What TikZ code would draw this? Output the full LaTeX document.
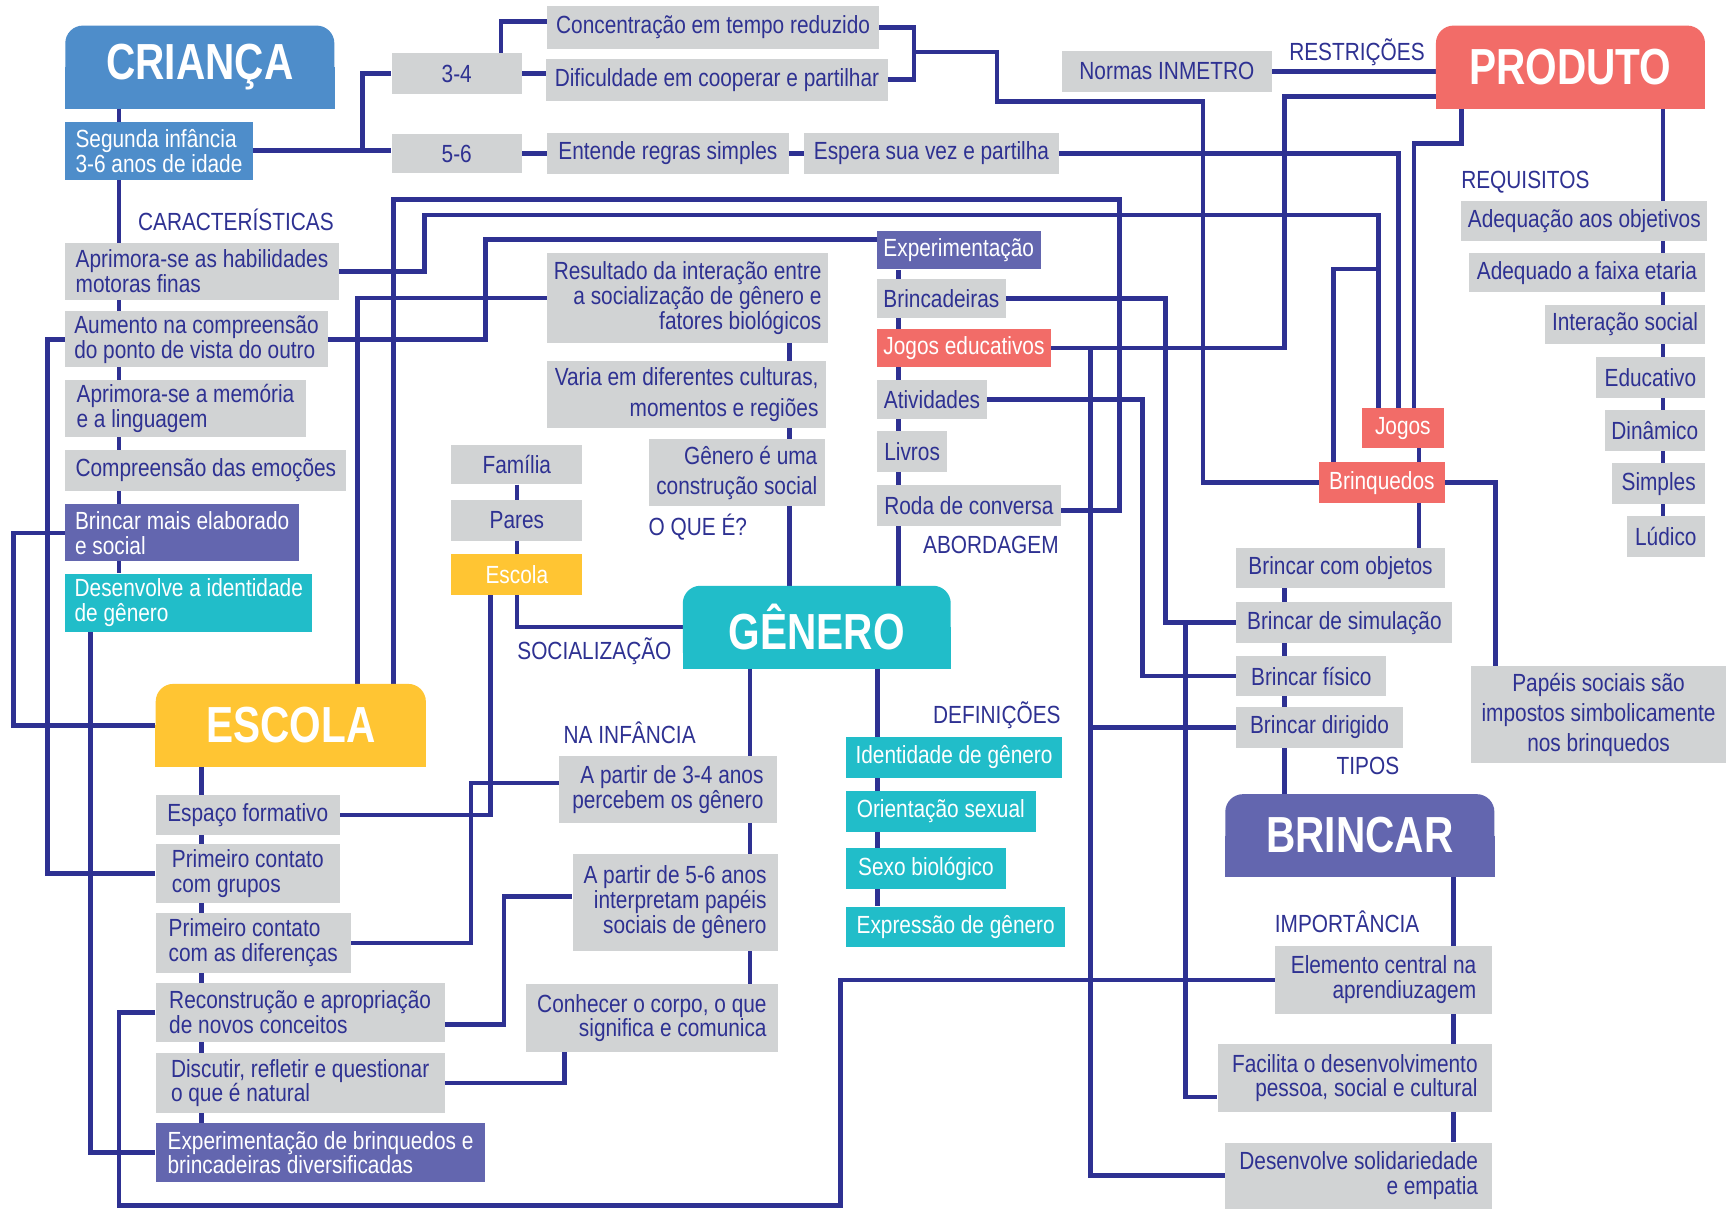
\documentclass[tikz,border=0pt]{standalone}
\usepackage{fontspec}
\setmainfont{Liberation Sans}[FakeStretch=0.84]
\newfontfamily\titulofonte{Liberation Sans}[FakeStretch=0.8]
\usetikzlibrary{backgrounds}

\definecolor{marinho}{HTML}{2E3192}
\definecolor{cinza}{HTML}{D1D3D4}
\definecolor{azul}{HTML}{4E8DCA}
\definecolor{vermelho}{HTML}{F26C68}
\definecolor{turquesa}{HTML}{21BDC9}
\definecolor{amarelo}{HTML}{FFC533}
\definecolor{roxo}{HTML}{6366AF}

\begin{document}
\begin{tikzpicture}[x=1pt, y=-1pt,
    caixa/.style={anchor=north west, fill=cinza, text=marinho, inner xsep=6pt, inner ysep=0pt,
                  align=left, font=\fontsize{22.5pt}{22.5pt}\selectfont},
    direita/.style={align=right},
    centro/.style={align=center},
    branco/.style={text=white},
    folga/.style={font=\fontsize{22.5pt}{27.5pt}\selectfont},
    titulo/.style={anchor=north west, inner sep=0pt, text=white, rounded corners=16pt,
                   minimum height=75pt, font=\titulofonte\bfseries\fontsize{46pt}{46pt}\selectfont},
    rotulo/.style={anchor=base west, inner sep=0pt, text=marinho, font=\fontsize{22.5pt}{22.5pt}\selectfont},
    liga/.style={draw=marinho, line width=4.2pt}]

  \useasboundingbox (0,0) rectangle (1568,1096);

  % CRIANCA
  \node[titulo, fill=azul, minimum width=244pt] (crianca) at (59,23) {CRIANÇA};
  \node[caixa, fill=azul, branco, minimum width=170pt, minimum height=53pt] (infancia) at (59,110) {Segunda infância\\3-6 anos de idade};
  \node[rotulo] (caract) at (125,209) {CARACTERÍSTICAS};
  \node[caixa, minimum width=248pt, minimum height=52pt] (motoras) at (59,220) {Aprimora-se as habilidades\\motoras finas};
  \node[caixa, minimum width=238pt, minimum height=51pt] (pontovista) at (59,282) {Aumento na compreensão\\do ponto de vista do outro};
  \node[caixa, minimum width=218pt, minimum height=52pt] (memoria) at (59,344) {Aprimora-se a memória\\e a linguagem};
  \node[caixa, minimum width=255pt, minimum height=37pt] (emocoes) at (59,408) {Compreensão das emoções};
  \node[caixa, fill=roxo, branco, minimum width=212pt, minimum height=52pt] (elaborado) at (59,457) {Brincar mais elaborado\\e social};
  \node[caixa, fill=turquesa, branco, minimum width=224pt, minimum height=53pt] (identidade) at (59,520) {Desenvolve a identidade\\de gênero};

  \node[caixa, minimum width=118pt, minimum height=37pt] (f34) at (355,48) {3-4};
  \node[caixa, minimum width=118pt, minimum height=36pt] (f56) at (355,121) {5-6};
  \node[caixa, minimum width=301pt, minimum height=39pt] (concentracao) at (496,5) {Concentração em tempo reduzido};
  \node[caixa, minimum width=310pt, minimum height=38pt] (dificuldade) at (495,53) {Dificuldade em cooperar e partilhar};
  \node[caixa, minimum width=219pt, minimum height=38pt] (regras) at (496,120) {Entende regras simples};
  \node[caixa, minimum width=231pt, minimum height=38pt] (partilha) at (729,120) {Espera sua vez e partilha};

  % PRODUTO
  \node[titulo, fill=vermelho, minimum width=244pt] (produto) at (1302,23) {PRODUTO};
  \node[caixa, minimum width=190pt, minimum height=37pt] (normas) at (963,46) {Normas INMETRO};
  \node[rotulo] (restricoes) at (1169,55) {RESTRIÇÕES};
  \node[rotulo] (requisitos) at (1325,171) {REQUISITOS};
  \node[caixa, minimum width=221pt, minimum height=36pt] (objetivos) at (1325,182) {Adequação aos objetivos};
  \node[caixa, minimum width=214pt, minimum height=36pt] (faixa) at (1332,229) {Adequado a faixa etaria};
  \node[caixa, minimum width=145pt, minimum height=36pt] (interacao) at (1401,276) {Interação social};
  \node[caixa, minimum width=99pt, minimum height=37pt] (educativo) at (1447,324) {Educativo};
  \node[caixa, minimum width=91pt, minimum height=37pt] (dinamico) at (1455,372) {Dinâmico};
  \node[caixa, minimum width=84pt, minimum height=37pt] (simples) at (1462,420) {Simples};
  \node[caixa, minimum width=71pt, minimum height=37pt] (ludico) at (1475,468) {Lúdico};
  \node[caixa, fill=vermelho, branco, minimum width=74pt, minimum height=36pt] (jogos) at (1235,370) {Jogos};
  \node[caixa, fill=vermelho, branco, minimum width=114pt, minimum height=37pt] (brinquedos) at (1196,419) {Brinquedos};
  \node[caixa, centro, minimum width=231pt, minimum height=88pt, folga] (papeis) at (1334,604) {Papéis sociais são\\impostos simbolicamente\\nos brinquedos};

  % GENERO
  \node[titulo, fill=turquesa, minimum width=243pt] (genero) at (619,531) {GÊNERO};
  \node[caixa, direita, minimum width=253pt, minimum height=82pt] (resultado) at (496,229) {Resultado da interação entre\\a socialização de gênero e\\fatores biológicos};
  \node[caixa, direita, folga, minimum width=253pt, minimum height=61pt] (culturas) at (496,327) {Varia em diferentes culturas,\\momentos e regiões};
  \node[caixa, direita, folga, minimum width=160pt, minimum height=61pt] (construcao) at (588,398) {Gênero é uma\\construção social};
  \node[rotulo] (oque) at (588,486) {O QUE É?};
  \node[caixa, fill=roxo, branco, minimum width=145pt, minimum height=35pt] (experim) at (795,209) {Experimentação};
  \node[caixa, minimum width=115pt, minimum height=35pt] (brincadeiras) at (795,253) {Brincadeiras};
  \node[caixa, fill=vermelho, branco, minimum width=157pt, minimum height=35pt] (jogoseduc) at (795,298) {Jogos educativos};
  \node[caixa, minimum width=100pt, minimum height=36pt] (atividades) at (795,344) {Atividades};
  \node[caixa, minimum width=64pt, minimum height=37pt] (livros) at (795,391) {Livros};
  \node[caixa, minimum width=167pt, minimum height=37pt] (roda) at (795,440) {Roda de conversa};
  \node[rotulo] (abordagem) at (837,502) {ABORDAGEM};
  \node[caixa, minimum width=119pt, minimum height=36pt] (familia) at (409,403) {Família};
  \node[caixa, minimum width=119pt, minimum height=37pt] (pares) at (409,453) {Pares};
  \node[caixa, fill=amarelo, branco, minimum width=119pt, minimum height=37pt] (escolaSoc) at (409,502) {Escola};
  \node[rotulo] (socializacao) at (469,598) {SOCIALIZAÇÃO};
  \node[rotulo] (nainfancia) at (511,674) {NA INFÂNCIA};
  \node[caixa, direita, minimum width=197pt, minimum height=61pt] (p34) at (507,685) {A partir de 3-4 anos\\percebem os gênero};
  \node[caixa, direita, minimum width=186pt, minimum height=88pt] (p56) at (519,774) {A partir de 5-6 anos\\interpretam papéis\\sociais de gênero};
  \node[caixa, direita, minimum width=228pt, minimum height=62pt] (conhecer) at (477,892) {Conhecer o corpo, o que\\significa e comunica};
  \node[rotulo, anchor=base east] (definicoes) at (962,656) {DEFINIÇÕES};
  \node[caixa, fill=turquesa, branco, minimum width=196pt, minimum height=37pt] (identgen) at (767,668) {Identidade de gênero};
  \node[caixa, fill=turquesa, branco, minimum width=172pt, minimum height=37pt] (orientacao) at (767,717) {Orientação sexual};
  \node[caixa, fill=turquesa, branco, minimum width=145pt, minimum height=37pt] (sexo) at (767,769) {Sexo biológico};
  \node[caixa, fill=turquesa, branco, minimum width=199pt, minimum height=37pt] (expressao) at (767,822) {Expressão de gênero};

  % ESCOLA
  \node[titulo, fill=amarelo, minimum width=245pt] (escola) at (141,620) {ESCOLA};
  \node[caixa, minimum width=167pt, minimum height=36pt] (formativo) at (141,721) {Espaço formativo};
  \node[caixa, minimum width=167pt, minimum height=54pt] (grupos) at (141,765) {Primeiro contato\\com grupos};
  \node[caixa, minimum width=177pt, minimum height=54pt] (diferencas) at (141,828) {Primeiro contato\\com as diferenças};
  \node[caixa, minimum width=262pt, minimum height=54pt] (reconstrucao) at (141,891) {Reconstrução e apropriação\\de novos conceitos};
  \node[caixa, minimum width=262pt, minimum height=54pt] (discutir) at (141,955) {Discutir, refletir e questionar\\o que é natural};
  \node[caixa, fill=roxo, branco, minimum width=299pt, minimum height=54pt] (experbrinq) at (141,1018) {Experimentação de brinquedos e\\brincadeiras diversificadas};

  % BRINCAR
  \node[caixa, minimum width=189pt, minimum height=36pt] (objetos) at (1121,497) {Brincar com objetos};
  \node[caixa, minimum width=196pt, minimum height=37pt] (simulacao) at (1121,546) {Brincar de simulação};
  \node[caixa, minimum width=136pt, minimum height=36pt] (fisico) at (1121,595) {Brincar físico};
  \node[caixa, minimum width=151pt, minimum height=37pt] (dirigido) at (1121,641) {Brincar dirigido};
  \node[rotulo] (tipos) at (1212,702) {TIPOS};
  \node[titulo, fill=roxo, minimum width=244pt] (brincar) at (1111,720) {BRINCAR};
  \node[rotulo] (importancia) at (1156,846) {IMPORTÂNCIA};
  \node[caixa, direita, minimum width=197pt, minimum height=61pt] (elemento) at (1156,858) {Elemento central na\\aprendiuzagem};
  \node[caixa, direita, minimum width=249pt, minimum height=61pt] (facilita) at (1104,947) {Facilita o desenvolvimento\\pessoa, social e cultural};
  \node[caixa, direita, minimum width=242pt, minimum height=60pt] (solidariedade) at (1111,1036) {Desenvolve solidariedade\\e empatia};

  % pontos de passagem
  \coordinate (xcri) at (108,0);
  \coordinate (xidade) at (329,0);
  \coordinate (nconc) at (829,47);
  \coordinate (nrestr) at (904,92);
  \coordinate (xbrinq) at (1091,0);
  \coordinate (xjedu) at (1165,0);
  \coordinate (xsolid) at (989,0);
  \coordinate (xreq) at (1508,0);
  \coordinate (nmot) at (385,195);
  \coordinate (nbrinq) at (1250,244);
  \coordinate (xbr) at (1287,0);
  \coordinate (xpap) at (1356,0);
  \coordinate (xtipos) at (1165,0);
  \coordinate (ximp) at (1318,0);
  \coordinate (xsim) at (1057,0);
  \coordinate (xfac) at (1075,0);
  \coordinate (xfis) at (1036,0);
  \coordinate (nroda) at (1015,181);
  \coordinate (xesc1) at (324,0);
  \coordinate (xesc2) at (357,0);
  \coordinate (nvista) at (440,217);
  \coordinate (xgrupo) at (43,0);
  \coordinate (xesq) at (12,0);
  \coordinate (xident) at (82,0);
  \coordinate (xlista) at (183,0);
  \coordinate (ndif) at (427,710);
  \coordinate (nrec) at (457,813);
  \coordinate (xdisc) at (512,0);
  \coordinate (xoque) at (716,0);
  \coordinate (xabord) at (815,0);
  \coordinate (xinf) at (680,0);
  \coordinate (xdef) at (796,0);
  \coordinate (nbase) at (108,1093);
  \coordinate (xbase) at (762,0);

  \begin{scope}[on background layer]
    \fill[white] (0,0) rectangle (1568,1096);
    % metade de baixo dos titulos sem cantos arredondados
    \fill[azul] (crianca.west) rectangle (crianca.south east);
    \fill[vermelho] (produto.west) rectangle (produto.south east);
    \fill[turquesa] (genero.west) rectangle (genero.south east);
    \fill[amarelo] (escola.west) rectangle (escola.south east);
    \fill[roxo] (brincar.west) rectangle (brincar.south east);

    % crianca
    \draw[liga] (crianca.south -| xcri) -- (identidade.north -| xcri);
    \draw[liga] (infancia.east) -- (infancia.east -| f56.west);
    \draw[liga] (infancia.east -| xidade) |- (f34.west);
    \draw[liga] ([xshift=40pt]f34.north) |- ([yshift=5pt]concentracao.west);
    \draw[liga] (f34.east) -- (f34.east -| dificuldade.west);
    \draw[liga] (f56.east) -- (f56.east -| regras.west);
    \draw[liga] (regras.east) -- (regras.east -| partilha.west);
    \draw[liga] (partilha.east) -| ([xshift=-4pt]jogos.north);
    \draw[liga] (concentracao.east) -| (nconc) |- (dificuldade.east);
    \draw[liga] (nconc) -| (nrestr) -| (brinquedos.west -| xbrinq) -- (brinquedos.west);
    \draw[liga] (motoras.east) -| (nmot) -| ([xshift=-22pt]jogos.north);
    \draw[liga] (pontovista.east) -| (nvista) -- (nvista -| experim.west);
    \draw[liga] (pontovista.west) -| (grupos.west -| xgrupo) -- (grupos.west);
    \draw[liga] (elaborado.west) -| (escola.west -| xesq) -- (escola.west);
    \draw[liga] (identidade.south -| xident) |- (experbrinq.west);

    % produto
    \draw[liga] (normas.east) -- (normas.east -| produto.west);
    \draw[liga] ([yshift=-27pt]produto.west) -| (jogoseduc.east -| xjedu) -- (jogoseduc.east);
    \draw[liga] ([xshift=-99pt]produto.south) -- ++(0,32) -| ([xshift=10pt]jogos.north);
    \draw[liga] (produto.south -| xreq) -- (ludico.north -| xreq);
    \draw[liga] ([xshift=-44pt]brinquedos.north) |- (nbrinq);
    \draw[liga] (jogos.south -| xbr) -- (brinquedos.north -| xbr);
    \draw[liga] (brinquedos.south -| xbr) -- (objetos.north -| xbr);
    \draw[liga] (brinquedos.east) -| (papeis.north -| xpap);

    % genero
    \draw[liga] (familia.south) -- (pares.north);
    \draw[liga] (pares.south) -- (escolaSoc.north);
    \draw[liga] (escolaSoc.south) |- (genero.west);
    \draw[liga] (genero.north -| xoque) -- (resultado.south -| xoque);
    \draw[liga] (genero.north -| xabord) -- (experim.south -| xabord);
    \draw[liga] (genero.south -| xinf) -- (conhecer.north -| xinf);
    \draw[liga] (genero.south -| xdef) -- (expressao.north -| xdef);
    \draw[liga] (jogoseduc.east -| xsolid) |- (solidariedade.west);
    \draw[liga] (dirigido.west -| xsolid) -- (dirigido.west);
    \draw[liga] (brincadeiras.east) -| (simulacao.west -| xsim) -- (simulacao.west);
    \draw[liga] (simulacao.west -| xfac) |- ([yshift=-17pt]facilita.west);
    \draw[liga] (atividades.east) -| (fisico.west -| xfis) -- (fisico.west);
    \draw[liga] ([yshift=-4pt]roda.east) -| (nroda) -| (escola.north -| xesc2);
    \draw[liga] (escola.north -| xesc1) |- (resultado.west);

    % escola
    \draw[liga] (escola.south -| xlista) -- (experbrinq.north -| xlista);
    \draw[liga] (formativo.east) -| ([xshift=-24pt]escolaSoc.south);
    \draw[liga] (diferencas.east) -| (ndif) -- (ndif -| p34.west);
    \draw[liga] ([yshift=-11pt]reconstrucao.east) -| (nrec) -- (nrec -| p56.west);
    \draw[liga] (discutir.east) -| (conhecer.south -| xdisc);
    \draw[liga] (reconstrucao.west) -| (nbase) -| (elemento.west -| xbase) -- (elemento.west);

    % brincar
    \draw[liga] (objetos.south -| xtipos) -- (brincar.north -| xtipos);
    \draw[liga] (brincar.south -| ximp) -- (solidariedade.north -| ximp);
  \end{scope}
\end{tikzpicture}
\end{document}
